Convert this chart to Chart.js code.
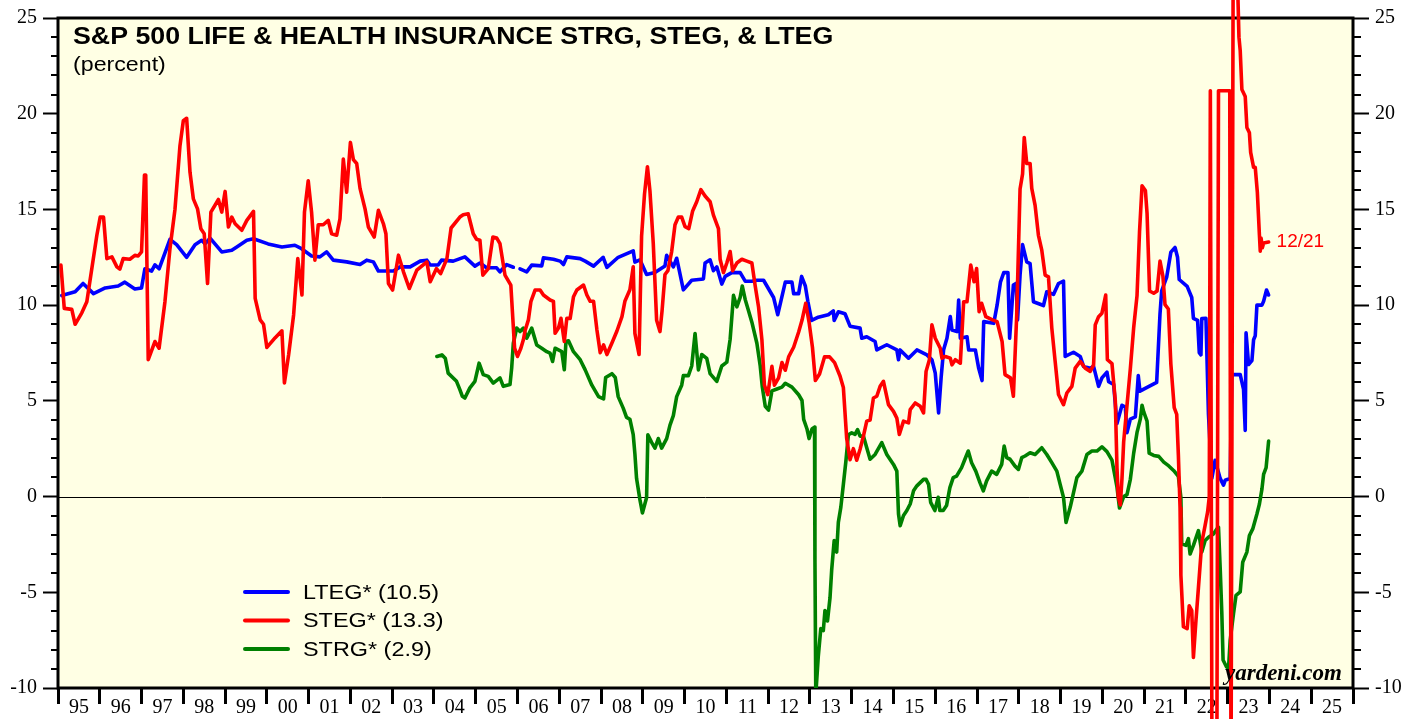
<!DOCTYPE html>
<html>
<head>
<meta charset="utf-8">
<script src="https://cdn.jsdelivr.net/npm/chart.js@4.4.0/dist/chart.umd.min.js"></script>
<style>
  html, body { margin: 0; padding: 0; background: #fff; }
  #wrap { width: 1419px; height: 719px; }
</style>
</head>
<body>
<div id="wrap"><canvas id="myChart" width="1419" height="719"></canvas></div>
<script>
// x axis: years 1995..2025, labels sit between the yearly tick marks
var yearLabels = ["95","96","97","98","99","00","01","02","03","04","05","06","07","08","09","10",
  "11","12","13","14","15","16","17","18","19","20","21","22","23","24","25"];
var yTicks = [-10, -5, 0, 5, 10, 15, 20, 25];

// LTEG (blue)
var ltegDates = [1995.09,1995.41,1995.6,1995.85,1996.13,1996.44,1996.6,1996.84,1997.0,1997.08,1997.24,1997.32,1997.42,
  1997.68,1997.84,1998.08,1998.28,1998.44,1998.52,1998.64,1998.92,1999.16,1999.28,1999.52,1999.68,2000.03,2000.36,
  2000.67,2000.83,2001.07,2001.27,2001.43,2001.59,2001.91,2002.23,2002.39,2002.55,2002.67,2003.03,2003.19,2003.43,
  2003.67,2003.83,2003.91,2004.1,2004.18,2004.46,2004.74,2004.98,2005.1,2005.26,2005.5,2005.58,2005.74,2005.9,
  2005.98,2006.06,2006.22,2006.34,2006.58,2006.62,2006.86,2007.02,2007.1,2007.18,2007.5,2007.62,2007.82,2008.05,
  2008.14,2008.41,2008.77,2008.81,2008.93,2009.09,2009.29,2009.53,2009.57,2009.73,2009.81,2009.97,2010.17,2010.45,
  2010.49,2010.61,2010.69,2010.77,2010.89,2010.97,2011.13,2011.33,2011.45,2011.61,2011.73,2011.89,2011.97,2012.13,
  2012.23,2012.41,2012.57,2012.61,2012.73,2012.8,2012.89,2012.95,2013.04,2013.2,2013.44,2013.56,2013.58,2013.68,
  2013.84,2013.96,2014.2,2014.24,2014.36,2014.56,2014.6,2014.84,2015.08,2015.12,2015.16,2015.36,2015.56,2015.8,
  2015.92,2016.0,2016.08,2016.14,2016.2,2016.28,2016.36,2016.4,2016.52,2016.56,2016.6,2016.76,2016.8,2016.96,
  2017.04,2017.12,2017.16,2017.4,2017.48,2017.56,2017.64,2017.74,2017.78,2017.87,2017.94,2017.97,2018.03,2018.09,
  2018.19,2018.27,2018.35,2018.59,2018.67,2018.83,2018.95,2019.07,2019.11,2019.31,2019.47,2019.55,2019.71,2019.79,
  2019.91,2019.99,2020.11,2020.15,2020.27,2020.35,2020.47,2020.55,2020.59,2020.67,2020.79,2020.86,2020.9,2020.98,
  2021.3,2021.38,2021.42,2021.54,2021.64,2021.74,2021.8,2021.84,2022.03,2022.14,2022.18,2022.28,2022.32,2022.36,
  2022.38,2022.48,2022.54,2022.62,2022.7,2022.82,2022.9,2022.94,2023.06,2023.1,2023.3,2023.38,2023.42,2023.44,
  2023.5,2023.58,2023.62,2023.66,2023.7,2023.82,2023.86,2023.93,2023.98];
var ltegValues = [10.5,10.7,11.13,10.6,10.9,11.0,11.2,10.84,10.9,11.9,11.78,12.1,11.9,
  13.44,13.16,12.5,13.16,13.39,13.2,13.5,12.78,12.87,13.04,13.39,13.47,13.2,13.04,
  13.13,12.95,12.57,12.52,12.78,12.35,12.26,12.12,12.35,12.26,11.78,11.78,12.0,12.0,
  12.3,12.35,12.1,12.1,12.35,12.3,12.52,12.04,12.2,11.95,11.95,11.74,12.12,11.98,
  null,11.9,11.74,12.09,12.05,12.47,12.4,12.3,12.12,12.52,12.43,12.3,12.04,12.5,
  11.97,12.5,12.84,12.25,12.37,11.6,11.7,12.04,12.6,12.0,12.45,10.8,11.3,11.37,
  12.2,12.37,11.8,12.0,11.1,11.5,11.7,11.7,11.25,11.25,11.3,11.3,11.0,10.4,
  9.5,11.2,11.2,10.6,10.6,11.5,11.0,10.2,9.2,9.37,9.5,9.7,9.2,9.65,
  9.55,8.9,8.8,8.27,8.35,8.1,7.66,7.93,7.66,7.15,7.66,7.23,7.66,7.4,
  7.15,6.45,4.37,6.2,7.67,8.27,9.4,8.7,8.62,10.27,8.27,8.35,7.66,7.66,
  6.7,6.06,9.14,9.05,10.0,11.2,11.7,11.7,8.27,11.05,11.14,9.23,11.57,13.16,
  12.26,12.17,10.18,9.98,10.7,10.56,11.13,11.26,7.32,7.54,7.32,6.8,6.7,6.8,
  5.76,6.2,6.5,6.0,5.86,3.82,4.77,4.67,3.34,4.05,4.16,6.32,5.5,5.6,
  5.97,9.55,10.74,11.46,12.77,13.01,12.5,11.34,10.98,10.4,9.31,9.2,7.52,7.4,
  9.3,9.31,4.3,0.95,1.9,0.95,0.6,0.85,0.95,6.37,6.37,5.6,3.46,8.55,
  6.9,7.1,8.19,8.4,10.0,10.0,10.2,10.79,10.53];

// STEG (red)
var stegDates = [1995.07,1995.15,1995.33,1995.41,1995.57,1995.69,1995.81,1995.93,1996.01,1996.09,1996.17,1996.29,
  1996.41,1996.48,1996.56,1996.72,1996.84,1996.92,1997.0,1997.07,1997.1,1997.16,1997.32,1997.42,1997.56,1997.68,
  1997.8,1997.92,1998.0,1998.08,1998.16,1998.24,1998.34,1998.42,1998.5,1998.58,1998.66,1998.84,1998.92,1999.0,
  1999.08,1999.16,1999.24,1999.4,1999.52,1999.68,1999.72,1999.84,1999.92,2000.0,2000.2,2000.36,2000.42,2000.52,
  2000.64,2000.74,2000.84,2000.9,2000.99,2001.07,2001.15,2001.23,2001.35,2001.47,2001.55,2001.67,2001.75,2001.83,
  2001.91,2002.0,2002.07,2002.15,2002.23,2002.35,2002.43,2002.57,2002.67,2002.79,2002.85,2002.91,2003.01,2003.15,
  2003.27,2003.41,2003.59,2003.83,2003.91,2004.06,2004.16,2004.31,2004.41,2004.62,2004.7,2004.82,2004.94,2005.02,
  2005.1,2005.17,2005.3,2005.41,2005.5,2005.58,2005.7,2005.84,2005.93,2006.0,2006.08,2006.14,2006.18,2006.26,
  2006.32,2006.42,2006.54,2006.62,2006.78,2006.86,2006.9,2006.98,2007.04,2007.12,2007.18,2007.26,2007.34,2007.42,
  2007.58,2007.66,2007.74,2007.82,2007.9,2007.98,2008.06,2008.14,2008.26,2008.38,2008.5,2008.57,2008.69,2008.77,
  2008.81,2008.91,2008.97,2009.04,2009.11,2009.17,2009.25,2009.33,2009.41,2009.46,2009.53,2009.6,2009.69,2009.77,
  2009.85,2009.93,2010.01,2010.1,2010.19,2010.29,2010.39,2010.49,2010.61,2010.69,2010.81,2010.85,2010.93,2011.01,
  2011.09,2011.15,2011.25,2011.37,2011.49,2011.61,2011.69,2011.77,2011.85,2011.91,2011.99,2012.09,2012.15,2012.25,
  2012.33,2012.41,2012.49,2012.61,2012.73,2012.81,2012.9,2012.98,2013.06,2013.13,2013.23,2013.35,2013.47,2013.59,
  2013.72,2013.8,2013.88,2013.96,2014.04,2014.12,2014.2,2014.28,2014.36,2014.44,2014.52,2014.6,2014.68,2014.76,
  2014.88,2015.0,2015.08,2015.14,2015.24,2015.36,2015.4,2015.52,2015.64,2015.72,2015.78,2015.86,2015.92,2016.0,
  2016.12,2016.16,2016.24,2016.36,2016.4,2016.48,2016.6,2016.68,2016.76,2016.85,2016.93,2016.99,2017.05,2017.11,
  2017.21,2017.37,2017.48,2017.6,2017.67,2017.8,2017.87,2017.95,2018.03,2018.09,2018.13,2018.19,2018.27,2018.31,
  2018.39,2018.47,2018.55,2018.63,2018.71,2018.79,2018.87,2018.95,2019.07,2019.15,2019.27,2019.35,2019.47,2019.59,
  2019.71,2019.79,2019.83,2019.91,2019.99,2020.08,2020.12,2020.23,2020.31,2020.35,2020.38,2020.43,2020.47,2020.51,
  2020.59,2020.67,2020.75,2020.83,2020.89,2020.95,2021.03,2021.07,2021.13,2021.23,2021.31,2021.38,2021.45,2021.5,
  2021.58,2021.64,2021.72,2021.78,2021.82,2021.86,2021.88,2021.94,2022.03,2022.08,2022.14,2022.18,2022.24,2022.3,
  2022.38,2022.46,2022.52,2022.56,2022.585,2022.6,2022.625,2022.74,2022.78,2023.05,2023.08,2023.1,2023.14,2023.27,
  2023.3,2023.34,2023.42,2023.46,2023.52,2023.55,2023.62,2023.66,2023.71,2023.76,2023.78,2023.8,2023.83,2023.86,
  2023.98];
var stegValues = [12.09,9.83,9.78,9.0,9.6,10.18,11.91,13.65,14.6,14.6,12.43,12.52,
  12.0,11.88,12.43,12.4,12.6,12.57,12.78,16.8,16.8,7.15,8.1,7.75,10.18,12.95,
  15.0,18.33,19.63,19.76,16.94,15.55,15.03,13.99,13.73,11.13,14.86,15.52,14.86,15.94,
  14.08,14.6,14.25,13.91,14.43,14.9,10.35,9.23,9.0,7.79,8.3,8.66,5.94,7.4,
  9.49,12.43,10.53,14.86,16.5,14.86,12.35,14.2,14.2,14.43,13.73,13.65,14.51,17.63,
  15.9,18.5,17.6,17.4,16.1,15.03,14.08,13.56,14.95,14.25,13.73,11.13,10.79,12.61,
  11.74,10.87,11.83,12.26,11.22,11.91,11.65,12.43,14.03,14.6,14.72,14.77,13.73,13.44,
  13.39,11.57,11.91,13.56,13.51,13.21,11.57,11.05,7.75,7.32,7.75,8.19,8.66,9.23,
  10.18,10.79,10.79,10.53,10.27,10.2,8.53,8.8,9.31,8.1,9.31,9.31,10.44,10.79,
  11.05,10.53,10.2,10.2,8.72,7.52,7.92,7.42,8.02,8.65,9.4,10.2,10.8,12.0,
  8.52,7.42,13.6,15.8,17.23,15.97,13.2,9.21,8.62,9.7,11.6,11.8,12.8,14.2,
  14.6,14.6,14.1,14.0,14.9,15.4,16.03,15.7,15.4,14.7,14.0,12.4,11.7,12.2,
  12.8,11.8,12.2,12.4,12.3,12.2,11.0,9.9,8.2,5.82,5.33,6.8,5.82,6.2,
  7.0,6.6,7.3,7.8,8.6,9.21,10.1,9.1,7.8,6.06,6.4,7.3,7.3,7.0,
  6.3,5.7,3.03,1.93,2.5,1.9,2.47,3.16,3.94,4.0,5.15,5.24,5.76,6.02,
  4.8,4.45,4.1,3.25,3.94,3.85,4.54,4.89,4.72,4.37,6.54,7.15,8.97,8.27,
  7.75,7.23,7.32,7.23,6.88,7.15,6.97,10.18,10.18,12.09,11.22,11.91,9.66,10.1,
  9.4,9.23,9.14,8.1,6.37,6.2,5.24,9.49,16.07,16.85,18.76,17.4,17.4,16.1,
  15.21,13.65,12.87,11.57,11.48,8.8,7.06,5.33,4.8,5.41,5.76,6.71,7.06,6.71,
  6.54,6.88,8.97,9.4,9.58,10.53,7.15,6.95,5.0,1.5,0.0,-0.44,0.95,2.86,
  4.77,6.68,8.83,10.5,13.84,16.23,15.99,14.8,10.74,10.62,10.74,12.3,11.5,10.03,
  9.8,6.92,4.65,4.3,2.15,-0.6,-4.1,-6.8,-6.9,-5.7,-5.96,-8.4,-6.5,-4.75,
  -2.4,-1.5,-0.8,0.0,21.2,21.2,-15,-15,21.2,21.2,-15,-15,35,24.0,
  23.3,21.27,20.9,19.28,19.0,17.98,17.2,17.2,15.9,13.65,12.82,13.5,13.0,13.25,
  13.3];

// STRG (green)
var strgDates = [2004.07,2004.19,2004.27,2004.34,2004.54,2004.62,2004.68,2004.74,2004.86,2004.98,2005.08,2005.18,
  2005.3,2005.42,2005.58,2005.66,2005.82,2005.86,2005.9,2005.98,2006.06,2006.14,2006.22,2006.34,2006.46,2006.58,
  2006.7,2006.78,2006.84,2006.9,2007.06,2007.12,2007.16,2007.22,2007.34,2007.5,2007.62,2007.78,2007.94,2008.06,
  2008.11,2008.26,2008.34,2008.41,2008.53,2008.61,2008.69,2008.77,2008.81,2008.85,2008.93,2008.99,2009.09,2009.12,
  2009.21,2009.29,2009.37,2009.45,2009.57,2009.65,2009.73,2009.81,2009.93,2009.97,2010.09,2010.17,2010.25,2010.33,
  2010.41,2010.53,2010.61,2010.77,2010.89,2011.01,2011.09,2011.17,2011.25,2011.33,2011.38,2011.45,2011.53,2011.61,
  2011.73,2011.81,2011.86,2011.93,2012.01,2012.09,2012.21,2012.33,2012.41,2012.57,2012.73,2012.81,2012.85,2012.93,
  2012.98,2013.05,2013.11,2013.12,2013.14,2013.2,2013.26,2013.32,2013.36,2013.42,2013.48,2013.52,2013.58,2013.64,
  2013.68,2013.74,2013.8,2013.86,2013.92,2014.0,2014.08,2014.14,2014.2,2014.28,2014.36,2014.44,2014.56,2014.72,
  2014.84,2015.0,2015.08,2015.12,2015.16,2015.24,2015.32,2015.4,2015.48,2015.56,2015.64,2015.72,2015.78,2015.84,
  2015.89,2015.99,2016.07,2016.11,2016.19,2016.27,2016.35,2016.43,2016.51,2016.63,2016.71,2016.79,2016.87,2016.97,
  2017.07,2017.15,2017.23,2017.35,2017.47,2017.59,2017.65,2017.71,2017.79,2017.91,2017.99,2018.07,2018.15,2018.27,
  2018.39,2018.55,2018.67,2018.79,2018.91,2018.99,2019.07,2019.13,2019.23,2019.31,2019.39,2019.51,2019.63,2019.75,
  2019.87,2019.99,2020.11,2020.23,2020.35,2020.41,2020.51,2020.59,2020.67,2020.75,2020.83,2020.91,2020.95,2020.99,
  2021.07,2021.12,2021.23,2021.35,2021.47,2021.59,2021.71,2021.82,2021.88,2021.9,2022.0,2022.06,2022.1,2022.18,
  2022.3,2022.38,2022.46,2022.54,2022.66,2022.74,2022.78,2022.82,2022.86,2022.89,2022.97,2023.02,2023.06,2023.14,
  2023.2,2023.3,2023.36,2023.46,2023.52,2023.6,2023.7,2023.76,2023.82,2023.86,2023.92,2023.98];
var strgValues = [7.32,7.4,7.23,6.45,6.02,5.59,5.24,5.15,5.68,6.02,6.97,6.37,
  6.28,5.93,6.2,5.76,5.85,6.71,8.01,8.8,8.62,8.8,8.27,8.8,7.92,7.75,
  7.57,7.49,7.06,7.75,7.57,6.63,8.1,8.14,7.57,7.15,6.62,5.82,5.22,5.1,
  6.22,6.42,6.22,5.22,4.62,4.14,4.04,3.23,2.23,0.94,-0.16,-0.86,-0.05,3.23,
  2.83,2.53,3.03,2.53,3.03,3.73,4.23,5.22,5.82,6.32,6.32,6.82,8.52,6.62,
  7.42,7.22,6.42,6.02,6.82,7.02,8.22,10.51,9.91,10.41,11.0,10.3,9.71,9.11,
  8.01,6.82,5.72,4.72,4.52,5.52,5.62,5.72,5.92,5.72,5.32,5.02,4.03,3.53,
  3.03,3.53,3.63,-3.3,-10.34,-8.34,-6.9,-7.0,-5.95,-6.5,-5.3,-3.85,-2.3,-2.9,
  -1.35,-0.55,0.63,1.83,3.23,3.33,3.25,3.5,3.16,3.16,2.55,1.95,2.2,2.82,
  2.2,1.68,1.33,-0.91,-1.52,-0.99,-0.73,-0.39,0.3,0.56,0.73,0.9,0.9,0.64,
  -0.3,-0.73,-0.04,-0.73,-0.73,-0.47,0.47,0.99,1.07,1.51,1.95,2.38,1.77,1.33,
  0.73,0.3,0.82,1.33,1.16,1.68,2.64,2.03,1.95,1.59,1.42,2.03,2.12,2.29,
  2.2,2.55,2.2,1.77,1.33,0.64,-0.04,-1.35,-0.56,0.21,0.99,1.33,2.2,2.38,
  2.38,2.6,2.35,1.9,0.5,-0.6,0.0,0.1,0.9,2.27,3.35,4.06,4.77,4.42,
  3.94,2.27,2.15,2.1,1.8,1.6,1.35,1.05,-0.05,-2.47,-2.55,-2.2,-3.0,-2.55,
  -1.78,-2.9,-2.3,-2.12,-1.95,-1.69,-1.6,-3.69,-6.11,-8.54,-8.89,-8.97,-7.5,-6.11,
  -5.16,-4.98,-3.43,-2.9,-2.04,-1.69,-0.91,-0.39,0.39,1.16,1.51,2.9];

function toPoints(dates, values) {
  return dates.map(function (d, i) { return { x: d, y: values[i] }; });
}

// stretch text a bit horizontally, like the original artwork
function wideText(ctx, text, x, y, sx) {
  ctx.save();
  ctx.translate(x, y);
  ctx.scale(sx, 1);
  ctx.fillText(text, 0, 0);
  ctx.restore();
}

var plotBackground = {
  id: "plotBackground",
  beforeDraw: function (chart) {
    var a = chart.chartArea, ctx = chart.ctx;
    ctx.save();
    ctx.fillStyle = "#ffffe4";
    ctx.fillRect(a.left, a.top, a.right - a.left, a.bottom - a.top);
    ctx.restore();
  },
  beforeDatasetsDraw: function (chart) {
    var a = chart.chartArea, ctx = chart.ctx, y = chart.scales.y;
    ctx.save();
    // zero line
    var y0 = Math.round(y.getPixelForValue(0)) + 0.5;
    ctx.strokeStyle = "#000";
    ctx.lineWidth = 1;
    ctx.beginPath();
    ctx.moveTo(a.left, y0);
    ctx.lineTo(a.right, y0);
    ctx.stroke();
    // minor ticks on both sides
    ctx.lineWidth = 2;
    for (var v = y.min; v <= y.max; v++) {
      if (v % 5 === 0) continue;
      var py = Math.round(y.getPixelForValue(v));
      ctx.beginPath();
      ctx.moveTo(a.left - 7, py);
      ctx.lineTo(a.left, py);
      ctx.moveTo(a.right, py);
      ctx.lineTo(a.right + 8, py);
      ctx.stroke();
    }
    // frame
    ctx.lineWidth = 3;
    ctx.strokeRect(a.left, a.top, a.right - a.left, a.bottom - a.top);
    ctx.restore();
  },
  afterDraw: function (chart) {
    var ctx = chart.ctx;
    ctx.save();
    ctx.fillStyle = "#000";
    ctx.textBaseline = "alphabetic";
    ctx.font = "bold 24px 'Liberation Sans', Arial, sans-serif";
    wideText(ctx, "S&P 500 LIFE & HEALTH INSURANCE STRG, STEG, & LTEG", 73, 44, 1.115);
    ctx.font = "20px 'Liberation Sans', Arial, sans-serif";
    wideText(ctx, "(percent)", 73, 71, 1.16);

    // legend
    var rowY = 592;
    ctx.textBaseline = "middle";
    chart.data.datasets.forEach(function (ds) {
      ctx.strokeStyle = ds.borderColor;
      ctx.lineWidth = 4;
      ctx.lineCap = "round";
      ctx.beginPath();
      ctx.moveTo(245, rowY);
      ctx.lineTo(288, rowY);
      ctx.stroke();
      ctx.fillStyle = "#000";
      wideText(ctx, ds.label, 303, rowY + 1, 1.17);
      rowY += 28.5;
    });

    // last value date
    var red = chart.data.datasets[1];
    var last = red.data[red.data.length - 1];
    ctx.fillStyle = "#ff0000";
    ctx.font = "19px 'Liberation Sans', Arial, sans-serif";
    ctx.fillText("12/21", chart.scales.x.getPixelForValue(last.x) + 8, chart.scales.y.getPixelForValue(last.y));

    ctx.fillStyle = "#000";
    ctx.textBaseline = "alphabetic";
    ctx.font = "bold italic 23px 'Liberation Serif', 'Times New Roman', serif";
    ctx.fillText("yardeni.com", 1225, 680);
    ctx.restore();
  }
};

var axisFont = { family: "'Liberation Serif', 'Times New Roman', serif", size: 20 };

var ctx = document.getElementById("myChart").getContext("2d");

var graphData = {
  type: "line",
  data: {
    datasets: [
      {
        label: "LTEG* (10.5)",
        data: toPoints(ltegDates, ltegValues),
        borderColor: "#0000ff",
        order: 1
      },
      {
        label: "STEG* (13.3)",
        data: toPoints(stegDates, stegValues),
        borderColor: "#ff0000",
        order: 0,
        clip: false
      },
      {
        label: "STRG* (2.9)",
        data: toPoints(strgDates, strgValues),
        borderColor: "#008000",
        order: 2
      }
    ]
  },
  options: {
    responsive: false,
    animation: false,
    devicePixelRatio: 1,
    layout: { padding: { top: 15, left: 0, right: 0, bottom: 0 } },
    elements: {
      point: { radius: 0 },
      line: { borderWidth: 3.6, tension: 0, borderJoinStyle: "round", borderCapStyle: "round", fill: false }
    },
    spanGaps: false,
    plugins: {
      legend: { display: false },
      tooltip: { enabled: false }
    },
    scales: {
      x: {
        type: "linear",
        min: 1995,
        max: 2026,
        afterBuildTicks: function (scale) {
          scale.ticks = yearLabels.map(function (l, i) { return { value: 1995.5 + i }; });
        },
        afterFit: function (scale) { scale.height = 31; },
        grid: { offset: true, drawOnChartArea: false, tickLength: 16, tickWidth: 3, color: "#000" },
        border: { display: false },
        ticks: {
          autoSkip: false,
          maxRotation: 0,
          padding: -8,
          color: "#000",
          font: axisFont,
          callback: function (value, index) { return yearLabels[index]; }
        }
      },
      y: {
        position: "left",
        min: yTicks[0],
        max: yTicks[yTicks.length - 1],
        afterBuildTicks: function (scale) {
          scale.ticks = yTicks.map(function (v) { return { value: v }; });
        },
        afterFit: function (scale) { scale.width = 58; },
        grid: { drawOnChartArea: false, tickLength: 15, tickWidth: 2, color: "#000" },
        border: { display: false },
        ticks: { padding: 6, color: "#000", font: axisFont }
      },
      y2: {
        position: "right",
        min: yTicks[0],
        max: yTicks[yTicks.length - 1],
        afterBuildTicks: function (scale) {
          scale.ticks = yTicks.map(function (v) { return { value: v }; });
        },
        afterFit: function (scale) { scale.width = 66; },
        grid: { drawOnChartArea: false, tickLength: 16, tickWidth: 2, color: "#000" },
        border: { display: false },
        ticks: { padding: 6, color: "#000", font: axisFont }
      }
    }
  },
  plugins: [plotBackground]
};

var myChart = new Chart(ctx, graphData);
</script>
</body>
</html>
